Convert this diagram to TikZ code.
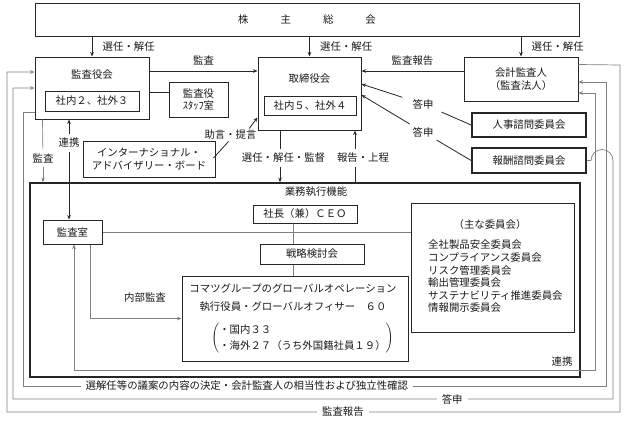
\documentclass[tikz,border=0pt]{standalone}
\usepackage{fontspec}
\setmainfont{Noto Sans CJK JP}
\usetikzlibrary{arrows.meta,calc,positioning}

\begin{document}
\begin{tikzpicture}
        [x=1pt, y=-1pt,
        % Styles
        every node/.style={font=\fontsize{10.4}{12.6}\selectfont, text=black!90},
        box/.style={draw=black!85, line width=1pt, inner sep=0pt},
        heavy box/.style={box, line width=1.7pt},
        gap text/.style={fill=white, inner xsep=5pt, inner ysep=1pt},
        cut text/.style={inner xsep=2pt, inner ysep=4pt},
        flow/.style={draw=black!50, line width=0.7pt},
        link/.style={draw=black!85, line width=0.8pt},
        >={Stealth[length=4.5pt,width=3.6pt]}]

        \useasboundingbox (0,0) rectangle (625,426);

        % Boxes
        \node[box, minimum width=544, minimum height=33] (agm) at (307,19.5)
                {株\hspace{32pt}主\hspace{32pt}総\hspace{32pt}会};

        \node[box, minimum width=114, minimum height=62] (kyaku) at (92,88) {};
        \node (kyakut) at (92,75) {監査役会};
        \node[box, minimum width=94, minimum height=20] (kyakuin) at (92,101) {社内２、社外３};
        \node[box, minimum width=59, minimum height=35, align=center] (staff) at (198.5,99.5) {監査役\\ｽﾀｯﾌ室};

        \node[box, minimum width=103, minimum height=73] (tori) at (309.5,93.5) {};
        \node (torit) at (309.5,79) {取締役会};
        \node[box, minimum width=92, minimum height=19] (toriin) at (310,105.5) {社内５、社外４};

        \node[box, minimum width=114, minimum height=44, align=center] (kaikei) at (521,79)
                {会計監査人\\（監査法人）};
        \node[heavy box, minimum width=114, minimum height=24] (jinji) at (529,125) {人事諮問委員会};
        \node[heavy box, minimum width=114, minimum height=25] (hoshu) at (529,160.5) {報酬諮問委員会};

        \node[box, minimum width=132, minimum height=36, align=center] (iab) at (149,159)
                {インターナショナル・\\アドバイザリー・ボード};

        % Business execution
        \node[heavy box, minimum width=550, minimum height=194] (exec) at (305,280) {};
        \node (exect) at (316,192) {業務執行機能};
        \node[box, minimum width=104, minimum height=18] (ceo) at (305,214) {社長（兼）ＣＥＯ};
        \node[box, minimum width=104, minimum height=20] (senryaku) at (312,254) {戦略検討会};
        \node[box, minimum width=226, minimum height=85] (global) at (295,318.5) {};
        \node (globalt) at (293,288.5) {コマツグループのグローバルオペレーション};
        \node (globalo) at (293,306.5) {執行役員・グローバルオフィサー　６０};
        \node[inner sep=0pt] (globalb) at (302.5,338)
                {\renewcommand{\arraystretch}{1.3}%
                $\left(\begin{tabular}{@{}l@{}}・国内３３\\・海外２７（うち外国籍社員１９）\end{tabular}\right)$};
        \node[box, minimum width=59, minimum height=24] (audit) at (72.5,232) {監査室};

        \node[box, minimum width=163, minimum height=129] (comm) at (492.5,267.5) {};
        \node (commt) at (490,225) {（主な委員会）};
        \foreach \name [count=\i from 0] in {全社製品安全委員会, コンプライアンス委員会, リスク管理委員会,
                輸出管理委員会, サステナビリティ推進委員会, 情報開示委員会}
                \node[anchor=west, inner sep=0pt] (comm\i) at (428,{245+12.6*\i}) {\name};

        \coordinate (spine) at (293,0);

        % Connectors
        \foreach \target in {kyaku, tori, kaikei}
                \draw[link, ->] (\target.north |- agm.south) -- node[right=7pt] {選任・解任} (\target.north);

        \draw[link, ->] ([yshift=17pt]kyaku.east) -- node[above=2pt] {監査} ([yshift=17pt]kyaku.east -| tori.west);
        \draw[link] ([yshift=7pt]staff.west) -- ([yshift=7pt]staff.west -| kyaku.east);
        \draw[link, ->] ([yshift=8pt]kaikei.west) -- node[above=2pt] {監査報告} ([yshift=8pt]kaikei.west -| tori.east);

        \node[inner xsep=10pt, inner ysep=3pt] (ans1) at (423,104) {答申};
        \node[inner xsep=10pt, inner ysep=3pt] (ans2) at (423,132) {答申};
        \draw[link] (jinji.west) -- (ans1);
        \draw[link, ->] (ans1) -- ([yshift=9.5pt]tori.east);
        \draw[link] (hoshu.west) -- (ans2);
        \draw[link, ->] (ans2) -- ([yshift=-1.5pt]tori.east);

        \node[inner sep=1.5pt] (adv) at (230.5,135) {助言・提言};
        \draw[link] ([xshift=-2pt, yshift=1pt]iab.east) -- ([xshift=-2pt]adv.south);
        \draw[link, ->] ([xshift=-9pt]adv.north east) -- ([yshift=13pt]tori.south west);

        \node[cut text] (sel) at (283.5,158) {選任・解任・監督};
        \draw[link] ([xshift=-3.5pt]sel.north) -- ([xshift=-3.5pt]sel.north |- tori.south);
        \draw[link, ->] ([xshift=-3.5pt]sel.south) -- ([xshift=-3.5pt]sel.south |- exec.north);

        \node[cut text] (rep) at (363,158) {報告・上程};
        \draw[link] ([xshift=-8pt]rep.south) -- ([xshift=-8pt]rep.south |- exec.north);
        \draw[link, ->] ([xshift=-8pt]rep.north) -- ([xshift=-8pt]rep.north |- tori.south);

        \node[cut text] (kansa) at (43,158) {監査};
        \draw[flow] ([xshift=8pt]kyaku.south west) -- (kansa);
        \draw[flow, ->] (kansa) -- (kansa |- exec.north);

        \node[cut text] (renkei) at (69,143) {連携};
        \draw[link, ->] (renkei) -- (renkei |- kyaku.south);
        \draw[link, ->] (renkei) -- (renkei |- audit.north);

        \draw[flow] (spine |- ceo.south) -- (spine |- senryaku.north);
        \draw[flow] (spine |- senryaku.south) -- (spine |- global.north);
        \draw[flow] (audit.east) -- (audit.east -| comm.west);

        \draw[flow, ->] ([xshift=17.5pt]audit.south) |- (global.west);
        \node (naibu) at (145,298) {内部監査};

        \draw[flow, <->] ([xshift=1.5pt]audit.south) -- (74,370) -- (595,370) -- (595,93)
                -- ([yshift=-14pt]kaikei.east);
        \node (renkei2) at (562,362) {連携};

        \draw[flow, ->] ([yshift=-24pt]kyaku.west) -| (23,386)
                -- node[gap text, pos=0.384] {選解任等の議案の内容の決定・会計監査人の相当性および独立性確認} (606,386)
                |- ([yshift=-3pt]kaikei.east);
        \draw[flow, ->] (hoshu.east) -- (591,160.5) arc[start angle=180, end angle=0, radius=11pt]
                -- (613,399) -- node[gap text, pos=0.268] {答申} (13,399) -- (13,88) -- (kyaku.west);
        \draw[flow, ->] ([yshift=-8pt]kaikei.north east) -- (620,65) -- (620,412)
                -- node[gap text, pos=0.452] {監査報告} (7,412) -- (7,72) -- ([yshift=16pt]kyaku.west);
\end{tikzpicture}
\end{document}
